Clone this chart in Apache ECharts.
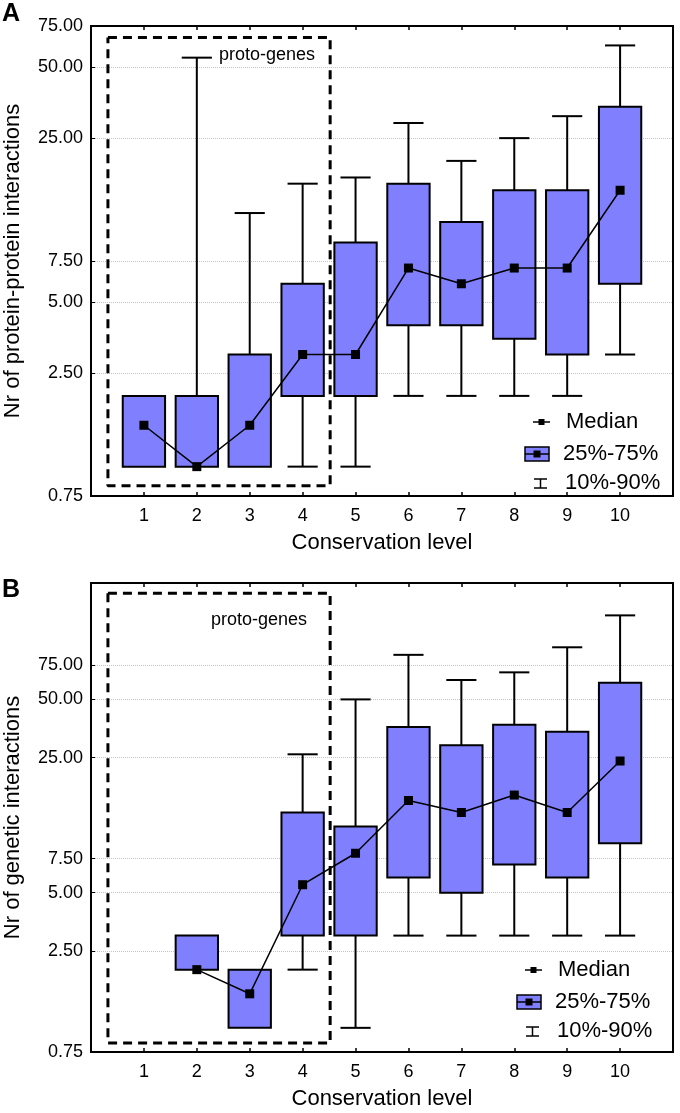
<!DOCTYPE html>
<html>
<head>
<meta charset="utf-8">
<script src="https://cdn.jsdelivr.net/npm/echarts@6/dist/echarts.min.js"></script>
<style>
html, body { margin: 0; padding: 0; background: #fff; }
#main { width: 680px; height: 1113px; }
</style>
</head>
<body>
<div id="main"></div>
<script>
// conservation levels on x
var levels = [1, 2, 3, 4, 5, 6, 7, 8, 9, 10];
var yTicks = [0.75, 2.5, 5, 7.5, 25, 50, 75];

// A: protein-protein interactions  (10%, 25%, median, 75%, 90%)
var ppiP10 = [1, 1, 1, 1, 1, 2, 2, 2, 2, 3];
var ppiQ1  = [1, 1, 1, 2, 2, 4, 4, 3.5, 3, 6];
var ppiMed = [1.5, 1, 1.5, 3, 3, 7, 6, 7, 7, 15];
var ppiQ3  = [2, 2, 3, 6, 9, 16, 11, 15, 15, 34];
var ppiP90 = [2, 55, 12, 16, 17, 29, 20, 25, 31, 62];

// B: genetic interactions (level 1 has no data)
var genP10 = [null, 2, 1, 2, 1, 3, 3, 3, 3, 3];
var genQ1  = [null, 2, 1, 3, 3, 6, 5, 7, 6, 9];
var genMed = [null, 2, 1.5, 5.5, 8, 15, 13, 16, 13, 24];
var genQ3  = [null, 3, 2, 13, 11, 36, 29, 37, 34, 61];
var genP90 = [null, 3, 2, 26, 50, 85, 63, 69, 93, 136];

// proto-genes region (levels 1-4)
var protoX = [0.32, 4.52];
var protoYA = [0.83, 67];
var protoYB = [0.835, 177];

var FONT = 'Liberation Sans, Arial, sans-serif';
var BOX = '#8080ff';

var chart = echarts.init(document.getElementById('main'));

function boxData(p10, q1, q3, p90) {
    var out = [];
    for (var i = 0; i < levels.length; i++) {
        if (q1[i] == null) continue;
        out.push([levels[i], p10[i], q1[i], q3[i], p90[i]]);
    }
    return out;
}
function medData(med) {
    var out = [];
    for (var i = 0; i < levels.length; i++) {
        if (med[i] == null) continue;
        out.push([levels[i], med[i]]);
    }
    return out;
}
function rectData(xs, ys) {
    return [[xs[0], ys[1]], [xs[1], ys[1]], [xs[1], ys[0]], [xs[0], ys[0]], [xs[0], ys[1]]];
}

function renderBox(params, api) {
    var x = api.value(0);
    var lo = api.value(1), q1 = api.value(2), q3 = api.value(3), hi = api.value(4);
    var tl = api.coord([x - 0.4, q3]);
    var br = api.coord([x + 0.4, q1]);
    var cx = api.coord([x, q1])[0];
    var cl = api.coord([x - 0.285, q1])[0];
    var cr = api.coord([x + 0.285, q1])[0];
    var yHi = api.coord([x, hi])[1];
    var yLo = api.coord([x, lo])[1];
    var ls = { stroke: '#000', lineWidth: 2 };
    var kids = [];
    if (hi > q3) {
        kids.push({ type: 'line', shape: { x1: cx, y1: yHi, x2: cx, y2: tl[1] }, style: ls });
        kids.push({ type: 'line', shape: { x1: cl, y1: yHi, x2: cr, y2: yHi }, style: ls });
    }
    if (lo < q1) {
        kids.push({ type: 'line', shape: { x1: cx, y1: yLo, x2: cx, y2: br[1] }, style: ls });
        kids.push({ type: 'line', shape: { x1: cl, y1: yLo, x2: cr, y2: yLo }, style: ls });
    }
    kids.push({
        type: 'rect',
        shape: { x: tl[0], y: tl[1], width: br[0] - tl[0], height: br[1] - tl[1] },
        style: { fill: BOX, stroke: '#000', lineWidth: 2 }
    });
    return { type: 'group', children: kids };
}

function xBottom(gi) {
    return {
        type: 'value', gridIndex: gi, min: 0, max: 11, interval: 1,
        name: 'Conservation level', nameLocation: 'middle', nameGap: 36,
        nameTextStyle: { fontSize: 22, color: '#000', fontFamily: FONT },
        axisLine: { onZero: false, lineStyle: { color: '#000', width: 2 } },
        axisTick: { inside: true, length: 4, lineStyle: { color: '#000', width: 1.5 } },
        axisLabel: {
            fontSize: 18, color: '#000', margin: 11,
            formatter: function (v) { return (v >= 1 && v <= 10) ? String(v) : ''; }
        },
        splitLine: { show: false }
    };
}
function xTop(gi) {
    return {
        type: 'value', gridIndex: gi, position: 'top', min: 0, max: 11, interval: 1,
        axisLine: { onZero: false, lineStyle: { color: '#000', width: 2 } },
        axisTick: { inside: true, length: 4, lineStyle: { color: '#000', width: 1.5 } },
        axisLabel: { show: false },
        splitLine: { show: false }
    };
}
function yLeft(gi, max, name) {
    return {
        type: 'log', logBase: 10, gridIndex: gi, min: 0.75, max: max,
        name: name, nameLocation: 'middle', nameGap: 67,
        nameTextStyle: { fontSize: 22, color: '#000', fontFamily: FONT },
        axisLine: { show: true, lineStyle: { color: '#000', width: 2 } },
        axisTick: { show: true, inside: true, length: 4, customValues: yTicks, lineStyle: { color: '#000' } },
        axisLabel: {
            customValues: yTicks, fontSize: 18, color: '#000', margin: 8,
            formatter: function (v) { return Number(v).toFixed(2); }
        },
        splitLine: { show: true, lineStyle: { color: '#c4c4c4', type: 'dotted', width: 1 } }
    };
}

function panelSeries(xi, yi, p10, q1, med, q3, p90, protoY) {
    return [
        {
            type: 'line', xAxisIndex: xi, yAxisIndex: yi,
            data: rectData(protoX, protoY), showSymbol: false, silent: true, z: 1,
            lineStyle: { color: '#000', width: 3, type: [9, 6] }
        },
        {
            type: 'custom', xAxisIndex: xi, yAxisIndex: yi, z: 2,
            data: boxData(p10, q1, q3, p90),
            encode: { x: 0, y: [1, 2, 3, 4] },
            renderItem: renderBox
        },
        {
            type: 'line', xAxisIndex: xi, yAxisIndex: yi, z: 3,
            data: medData(med), symbol: 'rect', symbolSize: 9,
            itemStyle: { color: '#000' },
            lineStyle: { color: '#000', width: 1.5 }
        }
    ];
}

function legend(dx, dy) {
    var t = function (s, x, y) {
        return { type: 'text', style: { text: s, x: x + dx, y: y + dy, fill: '#000', font: '22px ' + FONT, verticalAlign: 'middle' } };
    };
    var ln = function (x1, y1, x2, y2) {
        return { type: 'line', shape: { x1: x1 + dx, y1: y1 + dy, x2: x2 + dx, y2: y2 + dy }, style: { stroke: '#000', lineWidth: 1.5 } };
    };
    var sq = function (cx, cy, s) {
        return { type: 'rect', shape: { x: cx - s / 2 + dx, y: cy - s / 2 + dy, width: s, height: s }, style: { fill: '#000' } };
    };
    return [
        ln(533, 422, 550, 422), sq(541.5, 422, 6), t('Median', 566, 422),
        { type: 'rect', shape: { x: 525 + dx, y: 447 + dy, width: 24, height: 14 }, style: { fill: BOX, stroke: '#000', lineWidth: 1.5 } },
        ln(525, 454, 549, 454), sq(537, 454, 7), t('25%-75%', 563, 454),
        ln(534, 479, 547, 479), ln(540.5, 479, 540.5, 488), ln(534, 488, 547, 488), t('10%-90%', 565, 483)
    ];
}

var graphics = [
    { type: 'text', style: { text: 'A', x: 2, y: 2, fill: '#000', font: 'bold 25px ' + FONT } },
    { type: 'text', style: { text: 'B', x: 2, y: 578, fill: '#000', font: 'bold 25px ' + FONT } },
    { type: 'text', style: { text: 'proto-genes', x: 219, y: 55, fill: '#000', font: '18px ' + FONT, verticalAlign: 'middle' } },
    { type: 'text', style: { text: 'proto-genes', x: 211, y: 620, fill: '#000', font: '18px ' + FONT, verticalAlign: 'middle' } }
].concat(legend(0, 0)).concat(legend(-8, 548));

chart.setOption({
    animation: false,
    backgroundColor: '#fff',
    textStyle: { fontFamily: FONT },
    grid: [
        { left: 91, top: 26, width: 582, height: 470, outerBoundsMode: 'none', containLabel: false, show: true, borderColor: '#000', borderWidth: 2, backgroundColor: 'transparent' },
        { left: 91, top: 583, width: 582, height: 469, outerBoundsMode: 'none', containLabel: false, show: true, borderColor: '#000', borderWidth: 2, backgroundColor: 'transparent' }
    ],
    xAxis: [xBottom(0), xTop(0), xBottom(1), xTop(1)],
    yAxis: [
        yLeft(0, 75, 'Nr of protein-protein interactions'),
        yLeft(1, 200, 'Nr of genetic interactions')
    ],
    series: panelSeries(0, 0, ppiP10, ppiQ1, ppiMed, ppiQ3, ppiP90, protoYA)
        .concat(panelSeries(2, 1, genP10, genQ1, genMed, genQ3, genP90, protoYB)),
    graphic: graphics
});
</script>
</body>
</html>
